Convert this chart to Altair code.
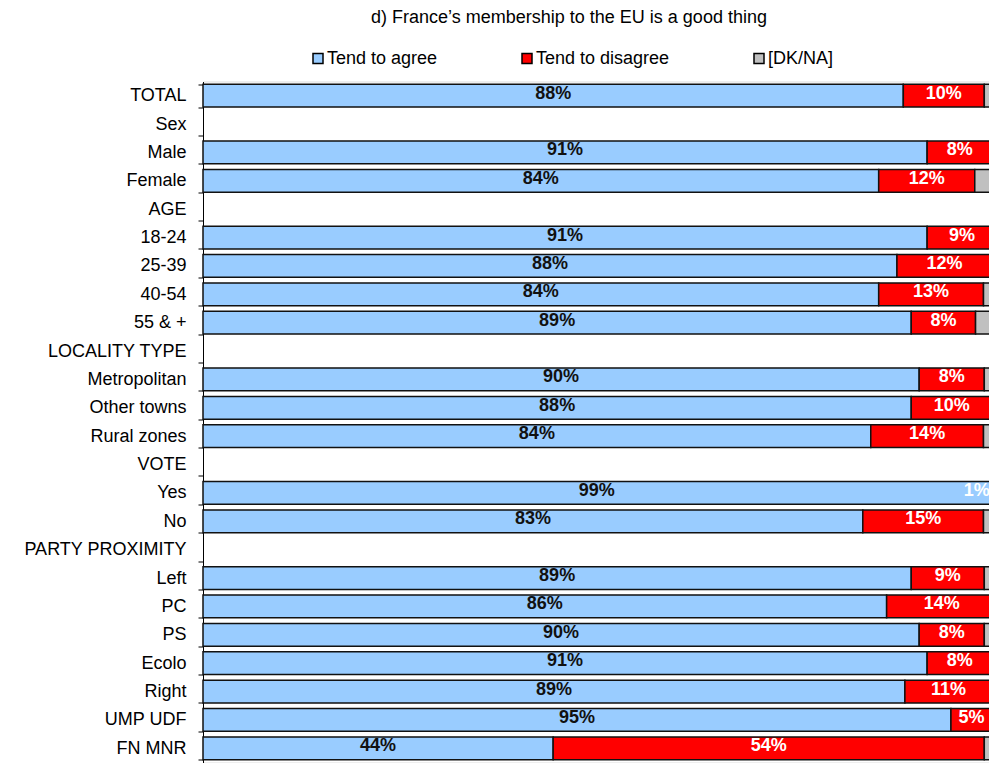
import altair as alt
import pandas as pd

rows = ["TOTAL", "Sex", "Male", "Female", "AGE", "18-24", "25-39", "40-54", "55 & +",
        "LOCALITY TYPE", "Metropolitan", "Other towns", "Rural zones", "VOTE", "Yes", "No",
        "PARTY PROXIMITY", "Left", "PC", "PS", "Ecolo", "Right", "UMP UDF", "FN MNR"]

groups = ["TOTAL", "Male", "Female", "18-24", "25-39", "40-54", "55 & +",
          "Metropolitan", "Other towns", "Rural zones", "Yes", "No",
          "Left", "PC", "PS", "Ecolo", "Right", "UMP UDF", "FN MNR"]

agree = [88.2, 91.2, 85.1, 91.2, 87.4, 85.1, 89.2, 90.2, 89.2, 84.1, 99.2, 83.1,
         89.2, 86.1, 90.2, 91.2, 88.4, 94.2, 44.1]
disagree = [10.2, 8.2, 12.1, 8.8, 12.0, 13.2, 8.1, 8.2, 10.2, 14.2, 0.8, 15.2,
            9.2, 13.9, 8.2, 8.2, 11.0, 5.2, 54.3]
dkna = [1.6, 0.6, 2.8, 0.0, 0.6, 1.7, 2.7, 1.6, 0.6, 1.7, 0.0, 1.7,
        1.6, 0.0, 1.6, 0.6, 0.6, 0.6, 1.6]

agree_labels = ["88%", "91%", "84%", "91%", "88%", "84%", "89%", "90%", "88%", "84%", "99%", "83%",
                "89%", "86%", "90%", "91%", "89%", "95%", "44%"]
disagree_labels = ["10%", "8%", "12%", "9%", "12%", "13%", "8%", "8%", "10%", "14%", "1%", "15%",
                   "9%", "14%", "8%", "8%", "11%", "5%", "54%"]

series = ["Tend to agree", "Tend to disagree", "[DK/NA]"]
colors = ["#99CCFF", "#FF0000", "#C0C0C0"]

FONT = "Liberation Sans"

recs = []
for i, g in enumerate(groups):
    vals = [agree[i], disagree[i], dkna[i]]
    labs = [agree_labels[i], disagree_labels[i], ""]
    start = 0.0
    for s, v, lab in zip(series, vals, labs):
        end = start + v
        recs.append({"row": g, "series": s, "start": start, "end": end,
                     "mid": (start + end) / 2, "width": v, "label": lab})
        start = end
df = pd.DataFrame(recs)

y_scale = alt.Scale(domain=rows, paddingInner=0.2, paddingOuter=0.1)
y_enc = alt.Y("row:N", scale=y_scale,
              axis=alt.Axis(title=None, labelFont=FONT, labelFontSize=18, labelColor="#000",
                            domainColor="#000", domainWidth=1, tickColor="#000", tickSize=5,
                            tickBand="extent", labelPadding=12, labelLimit=300, grid=False))
x_scale = alt.Scale(domain=[0, 100], nice=False, zero=True)

bars = alt.Chart(df).transform_filter("datum.width > 0").mark_bar(
    stroke="#111", strokeWidth=1.5
).encode(
    y=y_enc,
    x=alt.X("start:Q", scale=x_scale, axis=None),
    x2="end:Q",
    color=alt.Color("series:N", scale=alt.Scale(domain=series, range=colors),
                    legend=alt.Legend(title=None, orient="none", legendX=106, legendY=-32,
                                      direction="horizontal", symbolType="square",
                                      symbolSize=100, symbolStrokeColor="#000",
                                      symbolStrokeWidth=1.5, symbolOpacity=1,
                                      labelFont=FONT, labelFontSize=18, labelColor="#000",
                                      columnPadding=80, labelOffset=0, padding=0)),
)

txt_color = alt.condition(alt.datum.series == "Tend to agree", alt.value("#111"), alt.value("#fff"))

labels_wide = alt.Chart(df).transform_filter(
    "datum.label != '' && datum.width >= 3"
).mark_text(font=FONT, fontSize=18, fontWeight="bold", dy=-2, align="center", baseline="middle").encode(
    y=alt.Y("row:N", scale=y_scale),
    x=alt.X("mid:Q", scale=x_scale),
    text="label:N",
    color=txt_color,
)

labels_narrow = alt.Chart(df).transform_filter(
    "datum.label != '' && datum.width < 3"
).mark_text(font=FONT, fontSize=18, fontWeight="bold", dy=-2, dx=-1, align="right", baseline="middle").encode(
    y=alt.Y("row:N", scale=y_scale),
    x=alt.X("start:Q", scale=x_scale),
    text="label:N",
    color=alt.value("#fff"),
)

chart = alt.layer(bars, labels_wide, labels_narrow).properties(
    width=794,
    height=681,
    title=alt.TitleParams(text="d) France\u2019s membership to the EU is a good thing",
                          font=FONT, fontSize=18, fontWeight="normal", color="#000",
                          anchor="middle", dx=-31, offset=23),
    autosize=alt.AutoSizeParams(type="none"),
    padding={"left": 195, "top": 73.5, "right": -8, "bottom": 0},
).configure_view(stroke=None).configure(background="#ffffff")

chart.save("out.html", embed_options={"renderer": "svg", "actions": False})
